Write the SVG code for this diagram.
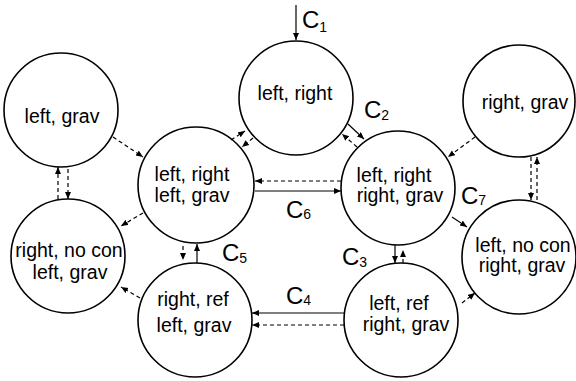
<svg xmlns="http://www.w3.org/2000/svg" width="576" height="381" viewBox="0 0 576 381">
<style>
.n{fill:#fff;stroke:#000;stroke-width:1.6}
.t{font-family:"Liberation Sans",Arial,sans-serif;font-size:19.5px;fill:#000;text-anchor:middle}
.c{font-family:"Liberation Sans",Arial,sans-serif;font-size:24px;fill:#000}
.s{font-size:14px}
.e{stroke:#000;stroke-width:1.2;fill:none;marker-end:url(#a)}
.d{stroke-dasharray:4,3}
</style>
<defs>
<marker id="a" markerUnits="userSpaceOnUse" markerWidth="8" markerHeight="7" refX="7" refY="3" orient="auto">
<path d="M0,0 L7,3 L0,6 z" fill="#000"/>
</marker>
</defs>
<g id="n1"><circle class="n" cx="61" cy="110" r="57"/><text class="t" x="62" y="123">left, grav</text></g>
<g id="n2"><circle class="n" cx="296" cy="98" r="57"/><text class="t" x="295" y="100">left, right</text></g>
<g id="n3"><circle class="n" cx="519" cy="101" r="56"/><text class="t" x="525" y="109">right, grav</text></g>
<g id="n4"><circle class="n" cx="196" cy="185" r="58"/><text class="t" x="192" y="181">left, right</text><text class="t" x="192" y="202">left, grav</text></g>
<g id="n5"><circle class="n" cx="398" cy="188" r="57"/><text class="t" x="394" y="182">left, right</text><text class="t" x="400" y="202">right, grav</text></g>
<g id="n6"><circle class="n" cx="68" cy="256" r="57"/><text class="t" x="69" y="257">right, no con</text><text class="t" x="70" y="279">left, grav</text></g>
<g id="n7"><circle class="n" cx="195" cy="320" r="57"/><text class="t" x="193" y="306">right, ref</text><text class="t" x="194" y="332">left, grav</text></g>
<g id="n8"><circle class="n" cx="401" cy="320" r="57"/><text class="t" x="399" y="310">left, ref</text><text class="t" x="406" y="331">right, grav</text></g>
<g id="n9"><circle class="n" cx="519" cy="257" r="57"/><text class="t" x="523" y="252">left, no con</text><text class="t" x="522" y="272">right, grav</text></g>
<g id="edges">
<line class="e" x1="296" y1="5" x2="296" y2="40"/>
<line class="e" x1="348" y1="124" x2="364" y2="139"/>
<line class="e d" x1="357" y1="147" x2="342" y2="134"/>
<line class="e d" x1="231" y1="140" x2="245" y2="131"/>
<line class="e d" x1="253" y1="138" x2="242" y2="147"/>
<line class="e d" x1="113" y1="137" x2="143" y2="157"/>
<line class="e d" x1="475" y1="137" x2="448" y2="157"/>
<line class="e d" x1="531" y1="157" x2="531" y2="200"/>
<line class="e d" x1="537" y1="200" x2="537" y2="157"/>
<line class="e d" x1="58" y1="199" x2="58" y2="167"/>
<line class="e d" x1="68" y1="169" x2="68" y2="199"/>
<line class="e d" x1="143" y1="213" x2="121" y2="226"/>
<line class="e d" x1="140" y1="298" x2="121" y2="287"/>
<line class="e d" x1="183" y1="246" x2="183" y2="260"/>
<line class="e" x1="197" y1="263" x2="197" y2="244"/>
<line class="e" x1="255" y1="191" x2="341" y2="191"/>
<line class="e d" x1="341" y1="181" x2="255" y2="181"/>
<line class="e" x1="452" y1="217" x2="467" y2="227"/>
<line class="e" x1="395" y1="245" x2="395" y2="263"/>
<line class="e d" x1="403" y1="263" x2="403" y2="250"/>
<line class="e" x1="344" y1="313" x2="252" y2="313"/>
<line class="e d" x1="344" y1="325" x2="252" y2="325"/>
<line class="e d" x1="462" y1="303" x2="475" y2="293"/>
</g>
<g id="labels">
<text class="c" x="302" y="28">C<tspan class="s" dy="4">1</tspan></text>
<text class="c" x="364" y="118">C<tspan class="s" dy="2">2</tspan></text>
<text class="c" x="342" y="265">C<tspan class="s" dy="2">3</tspan></text>
<text class="c" x="286" y="304">C<tspan class="s" dy="1">4</tspan></text>
<text class="c" x="222" y="261">C<tspan class="s" dy="2">5</tspan></text>
<text class="c" x="286" y="218">C<tspan class="s" dy="1">6</tspan></text>
<text class="c" x="461" y="204">C<tspan class="s" dy="1">7</tspan></text>
</g>
</svg>
